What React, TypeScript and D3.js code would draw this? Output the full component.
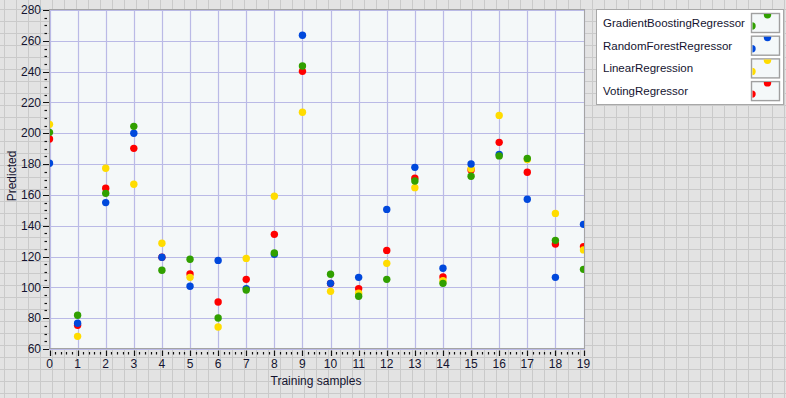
import React from "react";
import * as d3 from "d3";

const samples = d3.range(0, 20);
const seriesNames = ["GradientBoostingRegressor", "RandomForestRegressor", "LinearRegression", "VotingRegressor"];
const seriesColors = ["#31a000", "#0048dc", "#ffdc00", "#ff0000"];
const gbValues = [200.6, 81.9, 161, 204.5, 111.1, 118.2, 80.1, 98.3, 122.3, 243.7, 108.5, 94.2, 105.2, 169, 102.6, 172.1, 185.3, 183.7, 130.5, 111.7];
const rfValues = [180.5, 76.7, 155, 200, 119.5, 100.7, 117.5, 99.2, 121.5, 263.6, 102.6, 106.5, 150.6, 177.9, 112.4, 180.1, 186.3, 157.2, 106.5, 140.9];
const lrValues = [205.8, 68.2, 177.3, 166.9, 128.6, 106.5, 74.3, 118.8, 159.1, 213.6, 97.4, 96.2, 115.6, 164.7, 104.3, 177, 211.6, 182.9, 148, 124.3];
const vrValues = [196.3, 75.4, 164.3, 190.2, 119.5, 108.7, 90.5, 105.2, 134.4, 240.2, 102.5, 99.2, 124, 170.8, 106.7, 176.2, 194.1, 174.7, 128.1, 126.4];
const yTicks = [60, 80, 100, 120, 140, 160, 180, 200, 220, 240, 260, 280];
const xTicks = d3.range(0, 20);

const W = 786, H = 398;
const FONT = "'Liberation Sans', Arial, sans-serif";

export default function App() {
  const x = d3.scaleLinear().domain([0, 19]).range([49.5, 583.5]);
  const y = d3.scaleLinear().domain([60, 280]).range([349, 10]);
  const plot = { x0: 49, y0: 9, x1: 585, y1: 349 };
  const series = [gbValues, rfValues, lrValues, vrValues];
  const drawOrder = [3, 2, 1, 0];

  const bgV = d3.range(4, W, 12);
  const bgH = d3.range(9, H, 12);

  const yMinor = d3.range(60, 280.01, 5).filter((v) => v % 20 !== 0);
  const xMinor = d3.range(0, 19.001, 0.2).filter((v) => Math.abs(v - Math.round(v)) > 0.01);

  return (
    <svg width={W} height={H} style={{ position: "absolute", left: 0, top: 0 }} fontFamily={FONT}>
      <defs>
        <clipPath id="plotClip">
          <rect x={plot.x0} y={plot.y0} width={plot.x1 - plot.x0} height={plot.y1 - plot.y0} />
        </clipPath>
        {seriesNames.map((_, i) => (
          <clipPath id={`sw${i}`} key={i}>
            <rect x={752.5} y={14 + i * 22.7} width={26} height={17.5} />
          </clipPath>
        ))}
      </defs>
      <rect x={0} y={0} width={W} height={H} fill="#e3e3e3" />
      {bgV.map((v) => (
        <line key={"bv" + v} x1={v + 0.5} x2={v + 0.5} y1={0} y2={H} stroke="#cacaca" strokeWidth={1} />
      ))}
      {bgH.map((v) => (
        <line key={"bh" + v} x1={0} x2={W} y1={v + 0.5} y2={v + 0.5} stroke="#cacaca" strokeWidth={1} />
      ))}

      {/* plot area */}
      <rect x={plot.x0} y={plot.y0} width={plot.x1 - plot.x0} height={plot.y1 - plot.y0} fill="#f4f8f9" />
      {xTicks.map((t) => (
        <line key={"gx" + t} x1={Math.round(x(t)) + 0.5} x2={Math.round(x(t)) + 0.5} y1={plot.y0} y2={plot.y1} stroke="#babae6" strokeWidth={1.2} />
      ))}
      {yTicks.map((t) => (
        <line key={"gy" + t} x1={plot.x0} x2={plot.x1} y1={Math.round(y(t)) + 0.5} y2={Math.round(y(t)) + 0.5} stroke="#babae6" strokeWidth={1.2} />
      ))}
      <g clipPath="url(#plotClip)">
        {drawOrder.map((si) =>
          series[si].map((v, i) => (
            <circle key={si + "-" + i} cx={x(samples[i])} cy={y(v)} r={3.7} fill={seriesColors[si]} />
          ))
        )}
      </g>
      <rect x={plot.x0 + 0.5} y={plot.y0 + 0.5} width={plot.x1 - plot.x0 - 1} height={plot.y1 - plot.y0 - 1} fill="none" stroke="#a4a4a4" strokeWidth={1} />

      {/* y axis */}
      {yTicks.map((t) => (
        <g key={"yt" + t}>
          <line x1={43} x2={49} y1={Math.round(y(t)) + 0.5} y2={Math.round(y(t)) + 0.5} stroke="#111" strokeWidth={1} />
          <text x={41} y={y(t)} dy="0.35em" textAnchor="end" fontSize={12} fill="#141430">{t}</text>
        </g>
      ))}
      {yMinor.map((t) => (
        <line key={"ym" + t} x1={44.5} x2={47} y1={Math.round(y(t)) + 0.5} y2={Math.round(y(t)) + 0.5} stroke="#111" strokeWidth={1.2} />
      ))}
      <text transform={`translate(16,176) rotate(-90)`} textAnchor="middle" fontSize={12} fill="#141430">Predicted</text>

      {/* x axis */}
      {xTicks.map((t) => (
        <g key={"xt" + t}>
          <line x1={Math.round(x(t)) + 0.5} x2={Math.round(x(t)) + 0.5} y1={350.5} y2={356} stroke="#111" strokeWidth={1.2} />
          <text x={x(t)} y={364} dy="0.35em" textAnchor="middle" fontSize={12} fill="#141430">{t}</text>
        </g>
      ))}
      {xMinor.map((t) => (
        <line key={"xm" + t.toFixed(1)} x1={Math.round(x(t)) + 0.5} x2={Math.round(x(t)) + 0.5} y1={352} y2={354.5} stroke="#111" strokeWidth={1.2} />
      ))}
      <text x={316} y={381} dy="0.35em" textAnchor="middle" fontSize={12} fill="#141430">Training samples</text>

      {/* legend */}
      <rect x={596.5} y={9.5} width={187} height={95} fill="#ffffff" stroke="#a8a8a8" strokeWidth={1} />
      {seriesNames.map((name, i) => {
        const top = 13.5 + i * 22.7;
        return (
          <g key={name}>
            <text x={603} y={top + 9.5} dy="0.35em" fontSize={11.5} fill="#141430">{name}</text>
            <rect x={751.5} y={top} width={28} height={19} fill="#f4f8f9" stroke="#a0a0a0" strokeWidth={1.4} />
            <g clipPath={`url(#sw${i})`}>
              <circle cx={767.5} cy={top + 1.3} r={3.7} fill={seriesColors[i]} />
              <circle cx={752} cy={top + 12.5} r={3.7} fill={seriesColors[i]} />
            </g>
          </g>
        );
      })}
    </svg>
  );
}
